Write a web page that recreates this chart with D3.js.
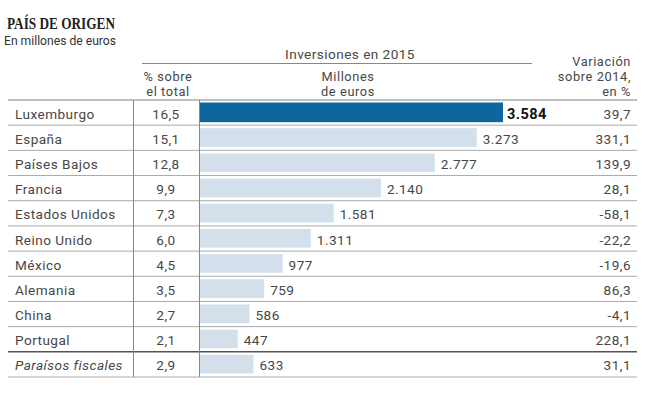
<!DOCTYPE html>
<html><head><meta charset="utf-8">
<script src="https://cdn.jsdelivr.net/npm/d3@7"></script>
<style>
body{margin:0;background:#fff;}
text{font-family:Roboto,"Open Sans",sans-serif;}
</style></head>
<body><svg id="c" width="650" height="396"></svg>
<script>
const countries = ["Luxemburgo","España","Países Bajos","Francia","Estados Unidos","Reino Unido","México","Alemania","China","Portugal","Paraísos fiscales"];
const shareTotal = ["16,5","15,1","12,8","9,9","7,3","6,0","4,5","3,5","2,7","2,1","2,9"];
const millions = [3584,3273,2777,2140,1581,1311,977,759,586,447,633];
const variation = ["39,7","331,1","139,9","28,1","-58,1","-22,2","-19,6","86,3","-4,1","228,1","31,1"];

const svg = d3.select("#c");
const txt = "#474747";
const fs = "13.6px", ls = "0.45px";
const hfs = "12.8px", hls = "0.6px";
const left = 8, right = 637, tableTop = 100, tableBottom = 377;
const col1 = 133, col2 = 199, barX = 200;

const y = d3.scaleBand().domain(countries).range([tableTop, tableBottom]).paddingInner(0).paddingOuter(0);
const x = d3.scaleLinear().domain([0, 3584]).range([0, 303]);
const fmt = v => d3.format(",")(v).replace(/,/g, ".");

// Title
svg.append("text").attr("x", 7).attr("y", 29).text("PAÍS DE ORIGEN")
  .attr("textLength", 108).attr("lengthAdjust", "spacingAndGlyphs")
  .style("font-family", "'Liberation Serif','DejaVu Serif',serif").style("font-weight", "bold").style("font-size", "16px").attr("fill", "#222");
svg.append("text").attr("x", 4).attr("y", 45).text("En millones de euros")
  .attr("textLength", 112).attr("lengthAdjust", "spacingAndGlyphs")
  .style("font-size", "12px").attr("fill", "#333");

// Headers
svg.append("text").attr("x", 350).attr("y", 59).attr("text-anchor", "middle").text("Inversiones en 2015")
  .style("font-size", fs).style("letter-spacing", ls).attr("fill", txt);
svg.append("line").attr("x1", 142).attr("x2", 532).attr("y1", 63.5).attr("y2", 63.5).attr("stroke", "#888").attr("stroke-width", 1);
const hdr = (t, xx, yy, anchor) => svg.append("text").attr("x", xx).attr("y", yy).attr("text-anchor", anchor)
  .text(t).style("font-size", hfs).style("letter-spacing", hls).attr("fill", txt);
[["% sobre", 81], ["el total", 96]].forEach(([t, yy]) => hdr(t, 168, yy, "middle"));
[["Millones", 81], ["de euros", 96]].forEach(([t, yy]) => hdr(t, 348, yy, "middle"));
[["Variación", 66], ["sobre 2014,", 81], ["en %", 96]].forEach(([t, yy]) => hdr(t, 631, yy, "end"));

// Bars
const g = svg.append("g");
g.selectAll("rect").data(countries).join("rect")
  .attr("x", barX)
  .attr("y", (d, i) => y(d) + (i === 0 ? 2.5 : 3))
  .attr("height", (d, i) => y.bandwidth() - (i === 0 ? 5.5 : 6.5))
  .attr("width", (d, i) => x(millions[i]))
  .attr("fill", (d, i) => i === 0 ? "#0b679e" : "#d3e0ec");

// Row lines
countries.forEach((c, i) => {
  const yy = y(c);
  svg.append("line").attr("x1", left).attr("x2", right).attr("y1", yy).attr("y2", yy)
    .attr("stroke", i === 10 ? "#555" : "#aaa").attr("stroke-width", i === 10 ? 1.5 : (i === 0 ? 1.5 : 1));
});
svg.append("line").attr("x1", left).attr("x2", right).attr("y1", tableBottom).attr("y2", tableBottom).attr("stroke", "#aaa").attr("stroke-width", 1);

// Vertical lines
[col1, col2].forEach(cx =>
  svg.append("line").attr("x1", cx + 0.5).attr("x2", cx + 0.5).attr("y1", tableTop).attr("y2", tableBottom).attr("stroke", "#888").attr("stroke-width", 1));

// Text rows
countries.forEach((c, i) => {
  const cy = y(c) + y.bandwidth() / 2 + 6;
  const t = (s, xx, anchor) => svg.append("text").attr("x", xx).attr("y", cy).attr("text-anchor", anchor).text(s)
    .style("font-size", fs).style("letter-spacing", ls).attr("fill", txt);
  t(c, 15, "start").style("font-style", i === 10 ? "italic" : "normal");
  t(shareTotal[i], 166, "middle");
  t(fmt(millions[i]), barX + x(millions[i]) + (i === 0 ? 4 : 6), "start")
    .style("font-size", i === 0 ? "14.5px" : fs).style("font-weight", i === 0 ? "bold" : "normal").attr("fill", i === 0 ? "#111" : txt);
  t(variation[i], 631, "end");
});
</script></body></html>
